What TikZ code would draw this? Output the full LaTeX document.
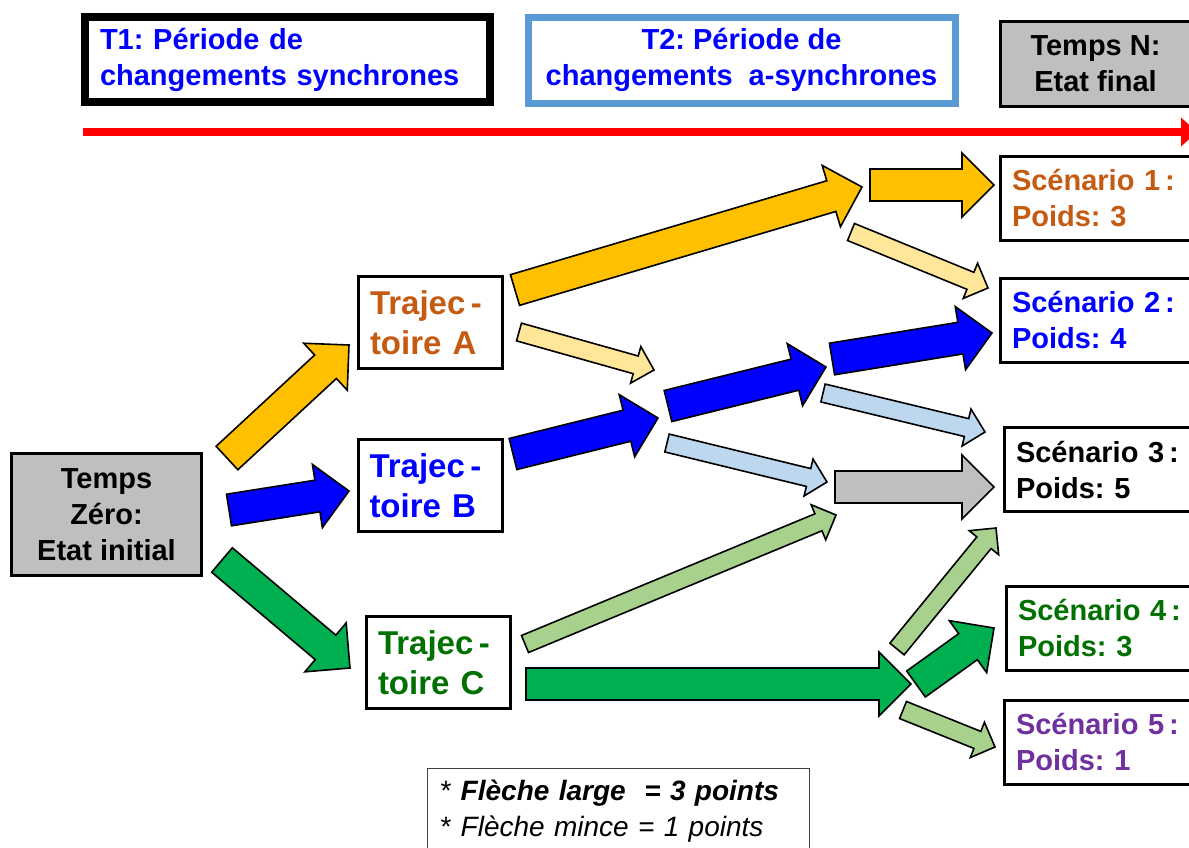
\documentclass[tikz,border=0pt]{standalone}
\usepackage{fontspec}
\setmainfont{Liberation Sans}
\frenchspacing
\usetikzlibrary{calc,arrows.meta}

\definecolor{orangeA}{RGB}{197,90,17}
\definecolor{vertC}{RGB}{0,112,0}
\definecolor{violet5}{RGB}{112,48,160}
\definecolor{jaune}{RGB}{255,192,0}
\definecolor{jauneclair}{RGB}{255,230,153}
\definecolor{bleuclair}{RGB}{189,215,238}
\definecolor{vert}{RGB}{0,176,80}
\definecolor{vertclair}{RGB}{169,209,142}
\definecolor{gris}{RGB}{191,191,191}
\definecolor{bordT}{RGB}{91,155,213}

% #1 depart, #2 pointe, #3 demi-corps, #4 demi-tete, #5 longueur tete, #6 couleur
\newcommand{\fleche}[6]{%
  \coordinate (fl-base) at ($(#2)!#5!(#1)$);
  \filldraw[draw=black, line width=0.8pt, fill=#6]
    ($(#1)!#3!90:(#2)$) -- ($(fl-base)!#3!-90:(#1)$) -- ($(fl-base)!#4!-90:(#1)$)
    -- (#2) -- ($(fl-base)!#4!90:(#1)$) -- ($(fl-base)!#3!90:(#1)$)
    -- ($(#1)!#3!-90:(#2)$) -- cycle;}
\newcommand{\flechelarge}[3]{\fleche{#1}{#2}{8pt}{16pt}{16pt}{#3}}
\newcommand{\flechemince}[3]{\fleche{#1}{#2}{4.6pt}{9.5pt}{9.5pt}{#3}}

\begin{document}
\begin{tikzpicture}[x=0.5pt,y=-0.5pt,
    gras/.style={font=\fontsize{14.5}{18}\selectfont\bfseries},
    cadre/.style={draw=black, line width=1.5pt, inner sep=0pt},
    trajet/.style={cadre, fill=white, minimum width=72pt, minimum height=46pt,
      text width=60.5pt, align=left, font=\fontsize{16.5}{20}\selectfont\bfseries},
    scenario/.style={cadre, gras, fill=white, minimum width=97.5pt, minimum height=42pt,
      text width=86pt, align=left}]

\clip (0,0) rectangle (1189,847);

% periodes
\node[gras, draw=black, line width=3.75pt, minimum width=202.5pt, minimum height=42.5pt,
  text width=187.5pt, align=left, text=blue, inner sep=0pt] (t1) at (287.5,59.5)
  {T1: Période de\\changements synchrones};
\node[gras, draw=bordT, line width=3.5pt, minimum width=213.5pt, minimum height=43pt,
  align=center, text=blue] (t2) at (741.5,60) {T2: Période de\\changements\ \ a-synchrones};
\node[gras, cadre, fill=gris, minimum width=95pt, minimum height=42.5pt, align=center]
  (tn) at (1095.5,63.5) {Temps N:\\Etat final};

\coordinate (temps-d) at (83,132);
\coordinate (temps-f) at (1197,132);
\draw[red, line width=4pt, -{Triangle[length=8pt,width=14pt]}] (temps-d) -- (temps-f);

% etats
\node[gras, cadre, fill=gris, minimum width=95pt, minimum height=61pt, align=center]
  (t0) at (106.5,514.5) {Temps\\Zéro:\\Etat initial};

\node[trajet, text=orangeA] (ta) at (430.5,322.5) {Trajec\,-\\toire A};
\node[trajet, text=blue] (tb) at (430,485.5) {Trajec\,-\\toire B};
\node[trajet, text=vertC] (tc) at (438.5,662.5) {Trajec\,-\\toire C};

\node[scenario, text=orangeA] (s1) at (1098,198.5) {Scénario 1\,:\\Poids: 3};
\node[scenario, text=blue] (s2) at (1098,320) {Scénario 2\,:\\Poids: 4};
\node[scenario, text=black] (s3) at (1102,469.5) {Scénario 3\,:\\Poids: 5};
\node[scenario, text=vertC] (s4) at (1104,628.5) {Scénario 4\,:\\Poids: 3};
\node[scenario, text=violet5] (s5) at (1102,742) {Scénario 5\,:\\Poids: 1};

% fleches
\coordinate (d1) at (227,458);  \coordinate (f1) at (349,345);
\coordinate (d2) at (229,510);  \coordinate (f2) at (349,491);
\coordinate (d3) at (222,560);  \coordinate (f3) at (350,668);
\coordinate (d4) at (515,290);  \coordinate (f4) at (862,187);
\coordinate (d5) at (870,185);  \coordinate (f5) at (994,185);
\coordinate (d6) at (519,332);  \coordinate (f6) at (654,370);
\coordinate (d7) at (851,232);  \coordinate (f7) at (988,288);
\coordinate (d8) at (513,454);  \coordinate (f8) at (658,418);
\coordinate (d9) at (668,406);  \coordinate (f9) at (826,367);
\coordinate (d10) at (832,359); \coordinate (f10) at (992,333);
\coordinate (d11) at (823,393); \coordinate (f11) at (985,432);
\coordinate (d12) at (667,443); \coordinate (f12) at (827,482);
\coordinate (d13) at (835,487); \coordinate (f13) at (994,487);
\coordinate (d14) at (525,644); \coordinate (f14) at (836,515);
\coordinate (d15) at (526,684); \coordinate (f15) at (911,684);
\coordinate (d16) at (897,649); \coordinate (f16) at (996,528);
\coordinate (d17) at (916,684); \coordinate (f17) at (994,628);
\coordinate (d18) at (903,710); \coordinate (f18) at (995,747);

\flechelarge{d1}{f1}{jaune}
\flechelarge{d2}{f2}{blue}
\flechelarge{d3}{f3}{vert}
\flechelarge{d4}{f4}{jaune}
\flechelarge{d5}{f5}{jaune}
\flechemince{d6}{f6}{jauneclair}
\flechemince{d7}{f7}{jauneclair}
\flechelarge{d8}{f8}{blue}
\flechelarge{d9}{f9}{blue}
\flechelarge{d10}{f10}{blue}
\flechemince{d11}{f11}{bleuclair}
\flechemince{d12}{f12}{bleuclair}
\flechelarge{d13}{f13}{gris}
\flechemince{d14}{f14}{vertclair}
\flechelarge{d15}{f15}{vert}
\flechemince{d16}{f16}{vertclair}
\flechelarge{d17}{f17}{vert}
\flechemince{d18}{f18}{vertclair}

% legende
\node[draw=black!75, line width=0.75pt, anchor=north west, text width=178pt, align=left,
  inner xsep=6.5pt, inner ysep=5.5pt, font=\fontsize{14}{18}\selectfont] (leg) at (426.75,767.75)
  {* \textbf{\textit{Flèche large\ \ = 3 points}}\\{*} \textit{Flèche mince = 1 points}};
\end{tikzpicture}
\end{document}
